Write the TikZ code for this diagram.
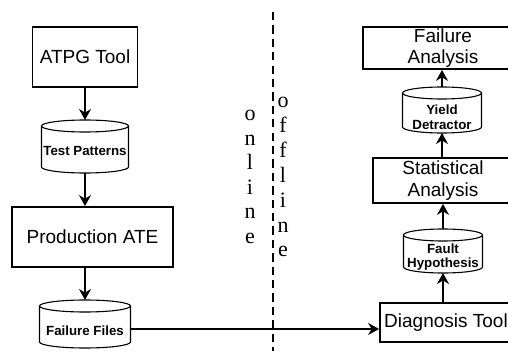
\documentclass[tikz,border=0pt]{standalone}
\usepackage{fontspec}
\setmainfont{Liberation Serif}
\newfontfamily\arialfont{Liberation Sans}
\usetikzlibrary{arrows.meta}

\tikzset{
  procbox/.style={draw, line width=1.8pt, inner sep=0pt, align=center,
    font=\arialfont\fontsize{19}{21.6}\selectfont},
  drum/.style={inner sep=0pt, outer sep=0pt, minimum width=#1},
  drumtext/.style={align=center, font=\arialfont\bfseries\fontsize{13.3}{14.5}\selectfont},
  flow/.style={line width=1.4pt, -{Stealth[length=11pt,width=12pt]}},
  vword/.style={anchor=base, font=\fontsize{22}{24}\selectfont},
}
% outline of a data store: node name, half width
\newcommand{\drawdrum}[2]{%
  \draw[line width=1.1pt] ([yshift=-6pt]#1.north west) -- ([yshift=6pt]#1.south west)
    arc[start angle=180, end angle=360, x radius=#2, y radius=6]
    -- ([yshift=-6pt]#1.north east);
  \draw[line width=1.1pt] ([yshift=-6pt]#1.north) ellipse[x radius=#2, y radius=6];
}

\begin{document}
\begin{tikzpicture}[x=1pt, y=1pt]
    \useasboundingbox (0,0) rectangle (508,351);
    \clip (0,0) rectangle (508,351);

    % online side
    \node[procbox, minimum width=105, minimum height=60] (atpg) at (85,294) {ATPG Tool};
    \node[drum=87, minimum height=53,
      label={[drumtext, yshift=-4.8pt]center:Test Patterns}] (tpat) at (85,204.5) {};
    \node[procbox, minimum width=161, minimum height=60] (prod) at (92.5,114) {Production ATE};
    \node[drum=91, minimum height=48,
      label={[drumtext, yshift=-6.3pt]center:Failure Files}] (ffile) at (85,27) {};

    % offline side
    \node[procbox, minimum width=160, minimum height=42] (fana) at (443,303) {Failure\\Analysis};
    \node[drum=79, minimum height=46,
      label={[drumtext, yshift=-7pt]center:Yield\\Detractor}] (yield) at (442,241) {};
    \node[procbox, minimum width=140, minimum height=45] (stat) at (443,170.5) {Statistical\\Analysis};
    \node[drum=79, minimum height=44,
      label={[drumtext, yshift=-6pt]center:Fault\\Hypothesis}] (fhyp) at (443,100) {};
    \node[procbox, minimum width=132, minimum height=39] (diag) at (446,28.5) {Diagnosis Tool};

    \drawdrum{tpat}{43.5}
    \drawdrum{ffile}{45.5}
    \drawdrum{yield}{39.5}
    \drawdrum{fhyp}{39.5}

    \draw[flow] (atpg.south) -- (tpat.north);
    \draw[flow] (tpat.south) -- (tpat.south |- prod.north);
    \draw[flow] (prod.south -| ffile.north) -- (ffile.north);
    \draw[flow] ([yshift=-5pt]ffile.east) -- ([yshift=-5pt]ffile.east -| diag.west);

    \draw[flow] (fhyp.south |- diag.north) -- (fhyp.south);
    \draw[flow] (fhyp.north) -- (fhyp.north |- stat.south);
    \draw[flow] (stat.north -| yield.south) -- (yield.south);
    \draw[flow] (yield.north) -- (yield.north |- fana.south);

    % divider
    \coordinate (divtop) at (273,339);
    \coordinate (divbot) at (273,0);
    \draw[line width=2pt, dash pattern=on 8.3pt off 5.1pt] (divtop) -- (divbot);

    \foreach \ch [count=\i] in {o,n,l,i,n,e}
        \node[vword] (on\i) at (250,{351-121-24.4*(\i-1)}) {\ch};
    \foreach \ch [count=\i] in {o,f,f,l,i,n,e}
        \node[vword] (off\i) at (283,{351-108-24.8*(\i-1)}) {\ch};
\end{tikzpicture}
\end{document}
